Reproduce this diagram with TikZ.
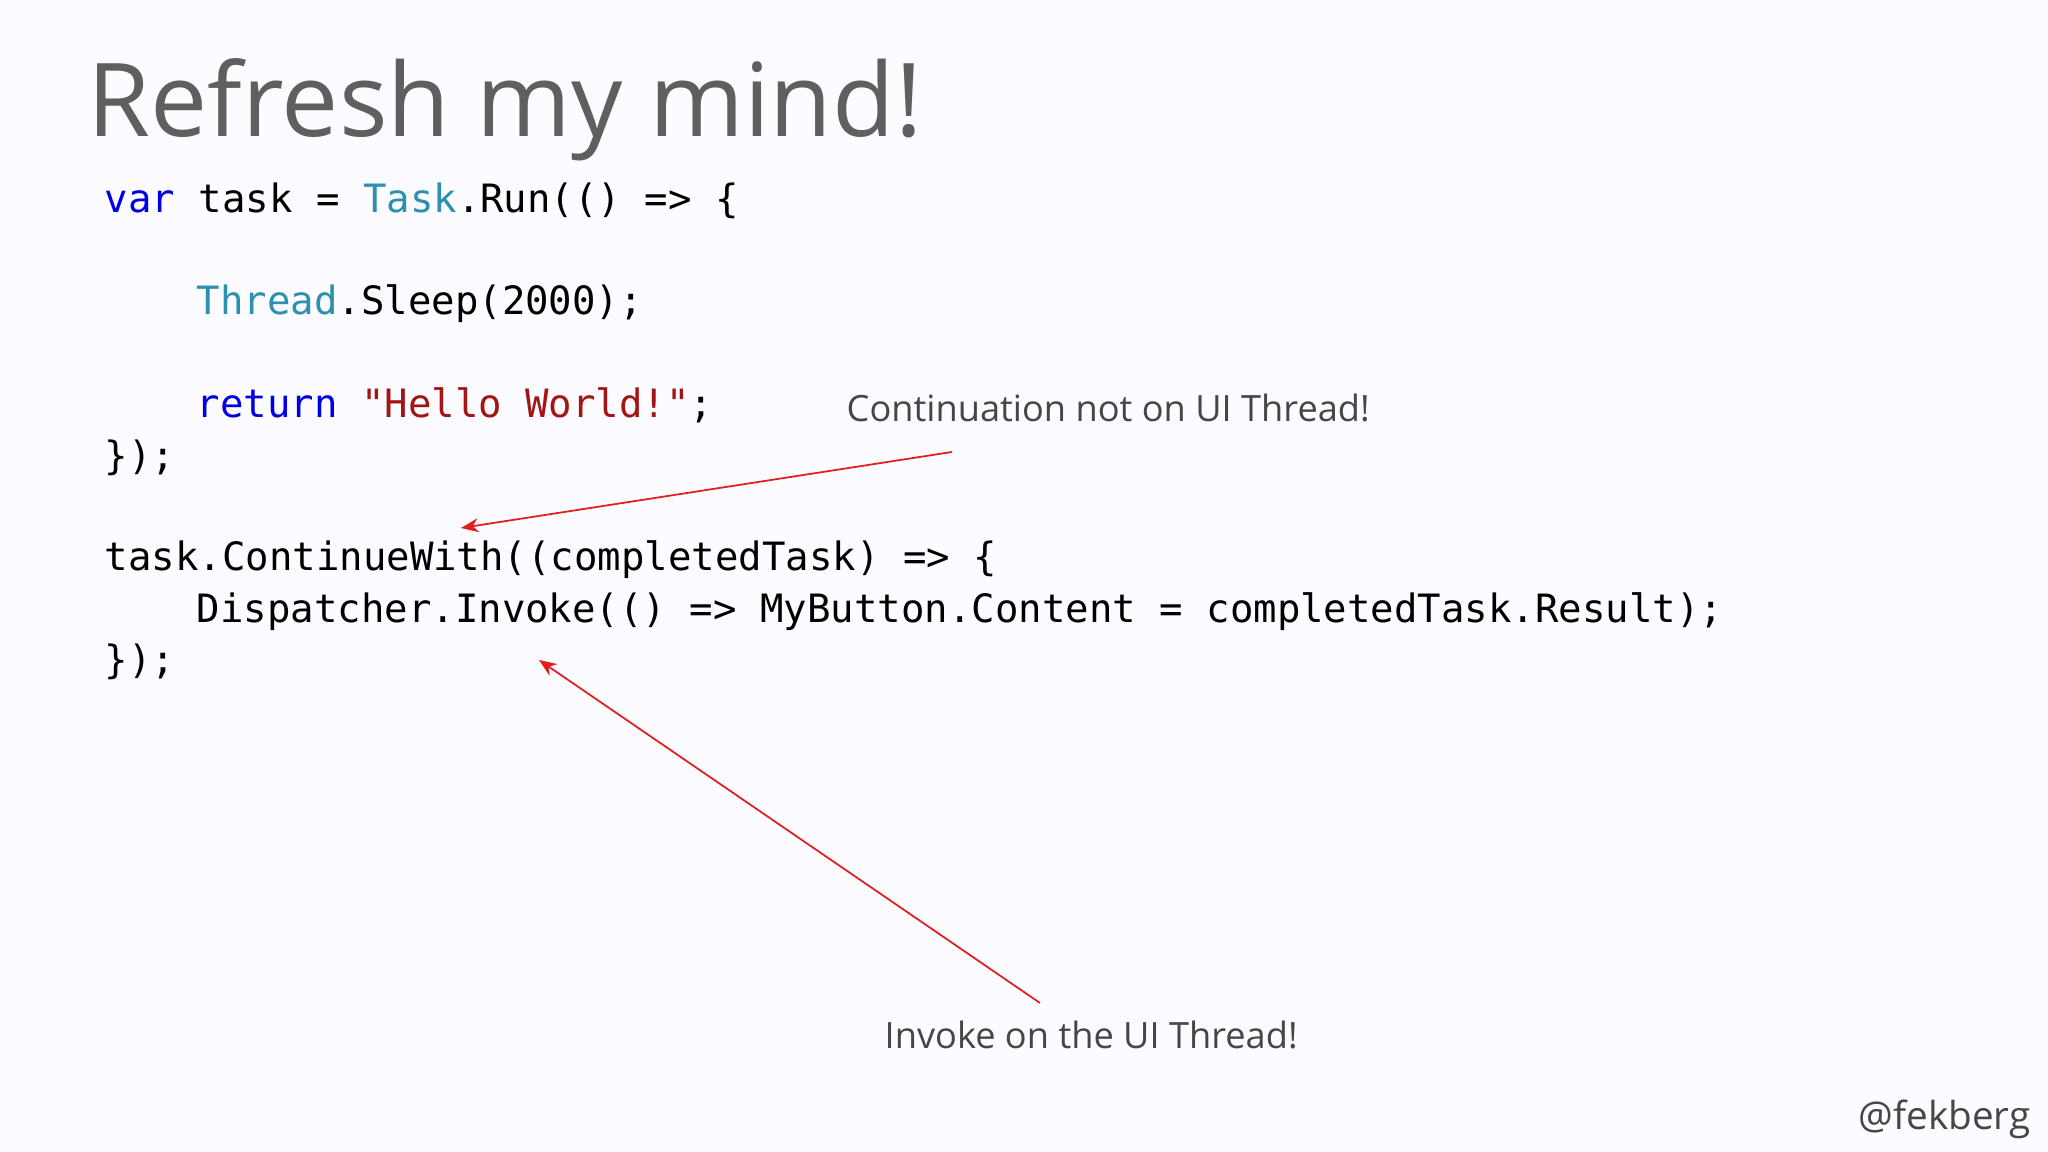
\documentclass[tikz,border=0pt]{standalone}
\usepackage{fontspec}
\setmainfont{Open Sans}
\setmonofont{DejaVu Sans Mono}
\usetikzlibrary{arrows.meta}
\definecolor{bg}{RGB}{252,251,255}
\definecolor{kw}{RGB}{0,0,230}
\definecolor{ty}{RGB}{43,145,175}
\definecolor{st}{RGB}{163,21,21}
\definecolor{ttl}{RGB}{95,95,95}
\definecolor{lbl}{RGB}{70,70,70}
\definecolor{arr}{RGB}{225,30,30}
\tikzset{code/.style={anchor=base west,inner sep=0pt,font=\ttfamily\fontsize{11.1}{12}\selectfont},
 lab/.style={anchor=base west,inner sep=0pt,text=lbl,font=\fontsize{10.3}{12}\selectfont},
 redarrow/.style={draw=arr,line width=0.5pt,-{Stealth[length=5pt,width=4pt]}}}
\begin{document}
\begin{tikzpicture}
\fill[bg] (0,0) rectangle (20.48,11.52);
\useasboundingbox (0,0) rectangle (20.48,11.52);
\node[anchor=base west,inner sep=0pt,text=ttl,font=\fontsize{29}{32}\selectfont] (title) at (0.87,10.15) {Refresh my mind!};
\node[code] (l1) at (1.04,9.39) {\textcolor{kw}{var} task = \textcolor{ty}{Task}.Run(() => \{};
\node[code] (l2) at (1.96,8.37) {\textcolor{ty}{Thread}.Sleep(2000);};
\node[code] (l3) at (1.96,7.34) {\textcolor{kw}{return} \textcolor{st}{"Hello World!"};};
\node[code] (l4) at (1.04,6.82) {\});};
\node[code] (l5) at (1.04,5.81) {task.ContinueWith((completedTask) => \{};
\node[code] (l6) at (1.96,5.29) {Dispatcher.Invoke(() => MyButton.Content = completedTask.Result);};
\node[code] (l7) at (1.04,4.78) {\});};
\node[lab] (c1) at (8.46,7.30) {Continuation not on UI Thread!};
\node[lab] (c2) at (8.84,1.03) {Invoke on the UI Thread!};
\node[anchor=base east,inner sep=0pt,text=lbl,font=\fontsize{11}{12}\selectfont] (tw) at (20.31,0.22) {@fekberg};
\coordinate (a1s) at (9.52,7.00);
\coordinate (a1e) at (4.61,6.24);
\coordinate (a2s) at (10.40,1.49);
\coordinate (a2e) at (5.39,4.92);
\draw[redarrow] (a1s) -- (a1e);
\draw[redarrow] (a2s) -- (a2e);
\end{tikzpicture}
\end{document}
